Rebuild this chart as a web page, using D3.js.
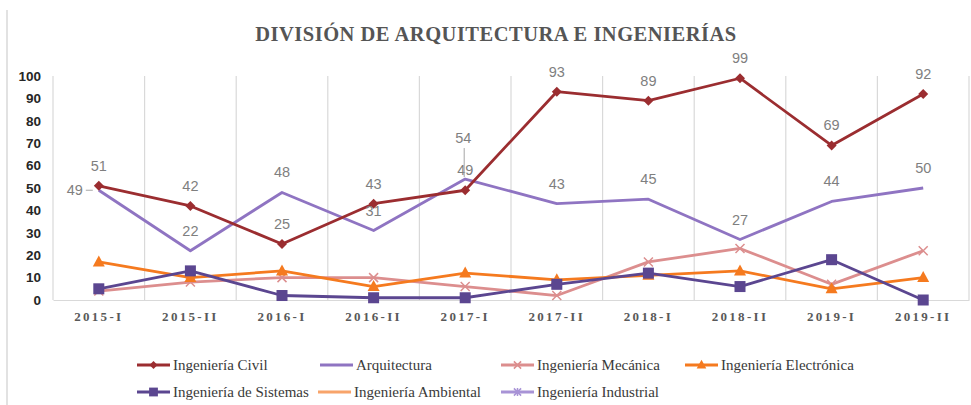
<!DOCTYPE html>
<html><head><meta charset="utf-8">
<script src="https://cdn.jsdelivr.net/npm/d3@7"></script>
<style>body{margin:0;background:#fff}</style>
</head><body><svg id="c" width="971" height="405"></svg>
<script>
const categories = ["2015-I","2015-II","2016-I","2016-II","2017-I","2017-II","2018-I","2018-II","2019-I","2019-II"];
const civil = [51,42,25,43,49,93,89,99,69,92];
const arquitectura = [49,22,48,31,54,43,45,27,44,50];
const mecanica = [4,8,10,10,6,2,17,23,7,22];
const electronica = [17,10,13,6,12,9,11,13,5,10];
const sistemas = [5,13,2,1,1,7,12,6,18,0];
const ambiental = [];
const industrial = [];
const yTicks = [0,10,20,30,40,50,60,70,80,90,100];
const title = "DIVISIÓN DE ARQUITECTURA E INGENIERÍAS";
const seriesNames = ["Ingeniería Civil","Arquitectura","Ingeniería Mecánica","Ingeniería Electrónica","Ingeniería de Sistemas","Ingeniería Ambiental","Ingeniería Industrial"];

const series = [
  {name: seriesNames[0], values: civil, color: "#9b2d30", marker: "diamond"},
  {name: seriesNames[1], values: arquitectura, color: "#8f74c2", marker: "none"},
  {name: seriesNames[2], values: mecanica, color: "#dc8e8e", marker: "x"},
  {name: seriesNames[3], values: electronica, color: "#f57a1f", marker: "triangle"},
  {name: seriesNames[4], values: sistemas, color: "#5b4690", marker: "square"},
  {name: seriesNames[5], values: ambiental, color: "#f8a46a", marker: "none"},
  {name: seriesNames[6], values: industrial, color: "#a893d6", marker: "star"}
];

const svg = d3.select("#c");
const x = d3.scaleBand().domain(categories).range([53, 969]).padding(0);
const y = d3.scaleLinear().domain([0, 100]).range([300, 76]);
const cx = c => x(c) + x.bandwidth() / 2;

// chart frame (left edge)
svg.append("line").attr("x1", 7).attr("x2", 7).attr("y1", 10).attr("y2", 405)
  .attr("stroke", "#d9d9d9").attr("stroke-width", 1.5);

// title
svg.append("text").attr("x", 496).attr("y", 41).attr("text-anchor", "middle")
  .attr("font-family", "Liberation Serif, DejaVu Serif, serif").attr("font-weight", "bold")
  .attr("font-size", 20.5).attr("letter-spacing", 0.5).attr("fill", "#555555").text(title);

// vertical gridlines at category boundaries
const bounds = categories.map(c => x(c)).concat([x.range()[1]]);
svg.append("g").selectAll("line").data(bounds).join("line")
  .attr("x1", d => d).attr("x2", d => d).attr("y1", y(100)).attr("y2", y(0))
  .attr("stroke", "#d9d9d9").attr("stroke-width", 1.2);

// x axis
const xAxis = svg.append("g").attr("transform", `translate(0,${y(0)})`)
  .call(d3.axisBottom(x).tickSize(0).tickPadding(12));
xAxis.select(".domain").attr("stroke", "#d9d9d9").attr("stroke-width", 1.2);
xAxis.selectAll("text").attr("font-family", "Liberation Serif, DejaVu Serif, serif")
  .attr("font-weight", "bold").attr("font-size", 13).attr("letter-spacing", 2.3).attr("fill", "#595959");

// y axis
const yAxis = svg.append("g").attr("transform", `translate(41,0)`)
  .call(d3.axisLeft(y).tickValues(yTicks).tickSize(0).tickPadding(0));
yAxis.select(".domain").remove();
yAxis.selectAll("text").attr("font-family", "Liberation Sans, Arial, sans-serif")
  .attr("font-weight", "bold").attr("font-size", 13.5).attr("fill", "#262626");

// markers
function drawMarker(g, type, color, px, py, k) {
  k = k || 1;
  if (type === "diamond") {
    const r = 5 * k;
    g.append("path").attr("d", `M${px},${py-r}L${px+r},${py}L${px},${py+r}L${px-r},${py}Z`).attr("fill", color);
  } else if (type === "square") {
    const r = 5.5 * k;
    g.append("rect").attr("x", px-r).attr("y", py-r).attr("width", 2*r).attr("height", 2*r).attr("fill", color);
  } else if (type === "triangle") {
    g.append("path").attr("d", `M${px},${py-6.5*k}L${px+6*k},${py+4.5*k}L${px-6*k},${py+4.5*k}Z`).attr("fill", color);
  } else if (type === "x") {
    const r = 4.5 * k;
    g.append("path").attr("d", `M${px-r},${py-r}L${px+r},${py+r}M${px-r},${py+r}L${px+r},${py-r}`)
      .attr("stroke", color).attr("stroke-width", 1.5);
  } else if (type === "star") {
    const r = 4.5 * k;
    g.append("path").attr("d", `M${px-r},${py-r}L${px+r},${py+r}M${px-r},${py+r}L${px+r},${py-r}M${px},${py-r-0.5}L${px},${py+r+0.5}`)
      .attr("stroke", color).attr("stroke-width", 1.5);
  }
}

const line = d3.line().x((d, i) => cx(categories[i])).y(d => y(d)).defined(d => d != null);
// draw order: back to front
const order = [6, 5, 2, 3, 4, 1, 0];
order.forEach(si => {
  const s = series[si];
  if (!s.values.length) return;
  const g = svg.append("g");
  g.append("path").datum(s.values).attr("d", line).attr("fill", "none")
    .attr("stroke", s.color).attr("stroke-width", 2.8).attr("stroke-linejoin", "round");
  s.values.forEach((v, i) => drawMarker(g, s.marker, s.color, cx(categories[i]), y(v)));
});

// data labels
const lblFont = "Liberation Sans, Arial, sans-serif";
const lg = svg.append("g");
function label(txt, px, py, anchor) {
  lg.append("text").attr("x", px).attr("y", py).attr("text-anchor", anchor || "middle")
    .attr("font-family", lblFont).attr("font-size", 14.5).attr("fill", "#7f7f7f").text(txt);
}
[0, 1].forEach(si => {
  const s = series[si];
  s.values.forEach((v, i) => {
    const px = cx(categories[i]), py = y(v);
    if (si === 1 && i === 0) {
      label(v, px - 16, py + 5, "end");
      lg.append("line").attr("x1", px - 13).attr("x2", px - 6).attr("y1", py).attr("y2", py)
        .attr("stroke", "#a6a6a6").attr("stroke-width", 1);
    } else if (si === 1 && i === 4) {
      label(v, px - 2, py - 36);
      lg.append("line").attr("x1", px - 1).attr("x2", px - 1).attr("y1", py - 31).attr("y2", py - 2)
        .attr("stroke", "#a6a6a6").attr("stroke-width", 1);
    } else {
      label(v, px, py - 15);
    }
  });
});

// legend
const legendRows = [
  [{s: 0, x: 137}, {s: 1, x: 320}, {s: 2, x: 501}, {s: 3, x: 685}],
  [{s: 4, x: 137}, {s: 5, x: 318}, {s: 6, x: 501}]
];
const legendY = [365, 392];
legendRows.forEach((row, ri) => {
  row.forEach(item => {
    const s = series[item.s];
    const g = svg.append("g");
    const ly = legendY[ri];
    g.append("line").attr("x1", item.x).attr("x2", item.x + 33).attr("y1", ly).attr("y2", ly)
      .attr("stroke", s.color).attr("stroke-width", 2.8);
    drawMarker(g, s.marker, s.color, item.x + 16.5, ly, 0.8);
    g.append("text").attr("x", item.x + 36).attr("y", ly + 5)
      .attr("font-family", "Liberation Serif, DejaVu Serif, serif").attr("font-size", 15)
      .attr("fill", "#3a3a3a").text(s.name);
  });
});
</script></body></html>
